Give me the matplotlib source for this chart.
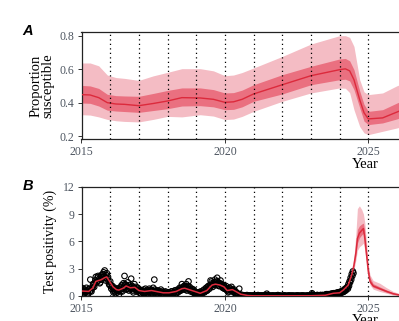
import numpy as np
import matplotlib
matplotlib.use('Agg')
import matplotlib.pyplot as plt

# ---- panel A: proportion susceptible ----
a_t = [2015.0, 2015.3, 2015.6, 2015.9, 2016.2, 2016.5, 2017.0, 2017.5, 2018.0, 2018.5, 2019.14,
       2019.6, 2020.0, 2020.3, 2020.6, 2021.0, 2022.0, 2023.0, 2024.0, 2024.2, 2024.35, 2024.5,
       2024.7, 2024.85, 2025.0, 2025.5, 2026.0, 2026.3]
a_med = [0.448, 0.446, 0.43, 0.40, 0.392, 0.39, 0.382, 0.395, 0.41, 0.43, 0.428,
         0.42, 0.402, 0.405, 0.42, 0.452, 0.507, 0.561, 0.597, 0.602, 0.59, 0.537,
         0.418, 0.34, 0.303, 0.309, 0.344, 0.365]
a_lo95 = [0.328, 0.326, 0.315, 0.30, 0.292, 0.288, 0.285, 0.30, 0.318, 0.315, 0.328,
          0.32, 0.299, 0.302, 0.318, 0.348, 0.408, 0.458, 0.488, 0.486, 0.46, 0.358,
          0.258, 0.22, 0.209, 0.229, 0.249, 0.262]
a_hi95 = [0.637, 0.637, 0.62, 0.565, 0.55, 0.545, 0.533, 0.56, 0.581, 0.603, 0.603,
          0.59, 0.561, 0.565, 0.58, 0.607, 0.676, 0.75, 0.80, 0.80, 0.79, 0.736,
          0.537, 0.465, 0.448, 0.458, 0.501, 0.52]
a_lo50 = [0.398, 0.396, 0.38, 0.355, 0.35, 0.347, 0.342, 0.353, 0.364, 0.38, 0.382,
          0.375, 0.358, 0.36, 0.375, 0.408, 0.452, 0.507, 0.537, 0.54, 0.53, 0.478,
          0.37, 0.29, 0.269, 0.279, 0.303, 0.32]
a_hi50 = [0.503, 0.50, 0.485, 0.45, 0.442, 0.44, 0.438, 0.455, 0.473, 0.488, 0.488,
          0.478, 0.458, 0.46, 0.475, 0.507, 0.567, 0.617, 0.661, 0.664, 0.65, 0.597,
          0.47, 0.39, 0.348, 0.358, 0.398, 0.42]

# ---- panel B: test positivity ----
b_t = [2015.0, 2015.25, 2015.4, 2015.5, 2015.6, 2015.7, 2015.8, 2015.88, 2016.0, 2016.1,
       2016.22, 2016.3, 2016.45, 2016.56, 2016.7, 2016.86, 2017.0, 2017.2, 2017.44, 2017.6,
       2017.85, 2018.05, 2018.3, 2018.5, 2018.6, 2018.75, 2018.95, 2019.14, 2019.37, 2019.55,
       2019.67, 2019.83, 2019.97, 2020.08, 2020.26, 2020.38, 2020.55, 2020.8, 2021.0, 2022.0,
       2023.0, 2023.5, 2023.78, 2024.0, 2024.13, 2024.3, 2024.42, 2024.5, 2024.57, 2024.62,
       2024.69, 2024.77, 2024.83, 2024.88, 2024.94, 2025.0, 2025.06, 2025.17, 2025.4, 2025.64,
       2025.87, 2026.1, 2026.3]
b_med = [0.55, 0.5, 0.9, 1.6, 1.7, 1.8, 2.0, 2.1, 1.5, 1.0,
         0.7, 0.65, 0.85, 1.1, 0.9, 0.95, 0.6, 0.5, 0.6, 0.5,
         0.35, 0.35, 0.5, 0.8, 0.85, 0.7, 0.5, 0.3, 0.6, 1.2,
         1.3, 1.2, 1.0, 0.6, 0.7, 0.5, 0.2, 0.05, 0.02, 0.02,
         0.03, 0.08, 0.3, 0.35, 0.66, 1.2, 2.3, 3.4, 4.8, 6.3,
         6.9, 7.2, 7.4, 6.3, 4.5, 2.7, 1.6, 1.1, 0.8, 0.5,
         0.25, 0.1, 0.05]

b_band_t = [2024.3, 2024.42, 2024.5, 2024.57, 2024.62, 2024.69, 2024.77, 2024.83, 2024.88,
            2024.94, 2025.0, 2025.06, 2025.17, 2025.4, 2025.64, 2025.87, 2026.1, 2026.3]
b_lo95 = [1.0, 2.0, 2.9, 4.0, 5.0, 5.4, 5.6, 5.8, 5.0, 3.6, 2.1, 1.2, 0.75, 0.5, 0.3, 0.1, 0.03, 0.01]
b_hi95 = [1.4, 2.7, 4.2, 7.0, 9.6, 9.9, 9.5, 9.0, 8.0, 5.8, 3.4, 2.3, 1.7, 1.4, 0.9, 0.5, 0.25, 0.15]
b_lo50 = [1.1, 2.2, 3.2, 4.5, 5.8, 6.4, 6.7, 6.9, 5.8, 4.1, 2.4, 1.4, 0.95, 0.7, 0.4, 0.18, 0.07, 0.03]
b_hi50 = [1.3, 2.45, 3.7, 5.5, 7.3, 7.7, 7.9, 8.0, 7.0, 5.0, 3.1, 2.0, 1.35, 1.0, 0.65, 0.35, 0.15, 0.08]

# observed data, two interleaved series (every two weeks each) from 2015
obs1 = [
    # 2015
    0.9, 0.5, 0.3, 0.7, 0.4, 0.6, 0.2, 0.8, 1.8, 0.5, 0.9, 1.2, 1.4, 2.1, 1.6, 2.2, 1.9, 1.5, 2.3, 2.0, 2.6, 2.8, 1.7, 2.5, 2.1, 1.3,
    # 2016
    1.6, 0.8, 1.1, 0.4, 0.9, 0.3, 0.6, 0.8, 0.2, 0.7, 1.0, 0.5, 1.4, 2.2, 1.2, 0.8, 1.5, 0.6, 0.9, 1.9, 1.1, 0.4, 1.3, 0.7, 0.5, 0.9,
    # 2017
    0.4, 0.7, 0.2, 0.6, 0.3, 0.5, 0.8, 0.4, 0.2, 0.6, 0.5, 0.7, 0.3, 0.9, 1.8, 0.4, 0.6, 0.2, 0.5, 0.3, 0.7, 0.2, 0.4, 0.1, 0.5, 0.3,
    # 2018
    0.2, 0.4, 0.1, 0.3, 0.5, 0.2, 0.4, 0.6, 0.3, 0.7, 0.5, 0.9, 0.6, 1.3, 0.8, 1.1, 0.7, 1.3, 0.9, 1.6, 1.0, 0.5, 0.8, 0.4, 0.6, 0.3,
    # 2019
    0.2, 0.4, 0.1, 0.3, 0.5, 0.2, 0.4, 0.7, 0.5, 0.9, 0.6, 1.1, 0.8, 1.7, 1.6, 1.0, 1.4, 1.8, 1.2, 2.0, 1.5, 1.1, 1.7, 1.3, 0.9, 1.2,
    # 2020
    0.8, 1.1, 0.6, 0.4, 0.9, 0.6, 1.0, 0.7, 0.4, 0.5, 0.2, 0.3, 0.1, 0.8, 0.1, 0.0, 0.1, 0.0, 0.05, 0.0, 0.1, 0.0, 0.0, 0.05, 0.0, 0.0,
    # 2021
    0.0, 0.05, 0.0, 0.0, 0.1, 0.0, 0.0, 0.05, 0.0, 0.0, 0.1, 0.0, 0.25, 0.0, 0.05, 0.0, 0.0, 0.0, 0.05, 0.0, 0.0, 0.0, 0.1, 0.0, 0.0, 0.0,
    # 2022
    0.0, 0.0, 0.05, 0.0, 0.0, 0.0, 0.0, 0.05, 0.0, 0.0, 0.0, 0.0, 0.0, 0.05, 0.0, 0.0, 0.0, 0.0, 0.0, 0.05, 0.0, 0.0, 0.0, 0.0, 0.05, 0.0,
    # 2023
    0.0, 0.3, 0.1, 0.0, 0.05, 0.0, 0.1, 0.0, 0.05, 0.1, 0.0, 0.1, 0.05, 0.1, 0.2, 0.1, 0.15, 0.2, 0.1, 0.25, 0.2, 0.3, 0.2, 0.35, 0.3, 0.4,
    # 2024
    0.3, 0.5, 0.4, 0.6, 0.5, 0.8, 0.7, 1.0, 1.3, 1.6, 2.0, 2.4, 2.7,
]
obs2 = [
    # 2015
    0.6, 0.8, 0.4, 0.5, 0.9, 0.3, 0.7, 0.5, 0.6, 0.9, 1.3, 1.0, 1.7, 1.5, 2.0, 1.7, 1.4, 2.1, 1.8, 2.4, 2.2, 2.0, 2.3, 1.9, 1.6, 1.2,
    # 2016
    1.2, 1.0, 0.6, 0.8, 0.5, 0.7, 0.4, 0.6, 0.9, 0.5, 1.2, 0.8, 1.0, 1.3, 0.7, 1.1, 0.8, 1.2, 0.7, 1.0, 0.6, 0.9, 0.8, 1.0, 0.7, 0.6,
    # 2017
    0.6, 0.3, 0.5, 0.4, 0.7, 0.3, 0.5, 0.6, 0.4, 0.8, 0.3, 0.5, 0.6, 0.4, 0.7, 0.5, 0.3, 0.6, 0.2, 0.4, 0.5, 0.3, 0.2, 0.4, 0.3, 0.2,
    # 2018
    0.4, 0.2, 0.3, 0.5, 0.3, 0.4, 0.6, 0.3, 0.5, 0.4, 0.7, 0.6, 0.9, 0.7, 1.0, 0.8, 1.0, 0.6, 1.1, 0.7, 0.8, 0.6, 0.5, 0.7, 0.3, 0.4,
    # 2019
    0.3, 0.2, 0.4, 0.2, 0.3, 0.4, 0.6, 0.4, 0.7, 0.6, 1.0, 0.9, 1.2, 1.1, 1.4, 1.3, 1.2, 1.5, 1.6, 1.3, 1.1, 1.4, 1.2, 1.0, 1.1, 0.8,
    # 2020
    0.9, 0.7, 0.8, 0.5, 0.7, 0.8, 0.6, 0.5, 0.7, 0.3, 0.4, 0.2, 0.1, 0.2, 0.05, 0.1, 0.0, 0.05, 0.0, 0.0, 0.05, 0.0, 0.05, 0.0, 0.0, 0.05,
    # 2021
    0.05, 0.0, 0.0, 0.05, 0.0, 0.0, 0.05, 0.0, 0.0, 0.05, 0.0, 0.0, 0.1, 0.05, 0.0, 0.0, 0.05, 0.0, 0.0, 0.0, 0.05, 0.0, 0.0, 0.05, 0.0, 0.0,
    # 2022
    0.0, 0.05, 0.0, 0.0, 0.0, 0.05, 0.0, 0.0, 0.0, 0.05, 0.0, 0.0, 0.0, 0.0, 0.05, 0.0, 0.0, 0.05, 0.0, 0.0, 0.0, 0.0, 0.05, 0.0, 0.0, 0.0,
    # 2023
    0.05, 0.15, 0.0, 0.05, 0.0, 0.1, 0.05, 0.0, 0.1, 0.05, 0.1, 0.0, 0.1, 0.15, 0.1, 0.2, 0.1, 0.15, 0.25, 0.15, 0.3, 0.2, 0.25, 0.3, 0.4, 0.3,
    # 2024
    0.4, 0.35, 0.5, 0.45, 0.7, 0.6, 0.9, 0.8, 1.1, 1.5, 1.8, 2.2, 2.5,
]
obs1_t = 2015 + np.arange(len(obs1)) / 26
obs2_t = 2015 + (np.arange(len(obs2)) + 0.5) / 26

years = list(range(2016, 2026))
x_ticks = [2015, 2020, 2025]

col95 = '#f4bcc4'
col50 = '#ea7080'
col_line = '#dc2a3c'
tick_col = '#4d5560'

plt.rcParams['font.family'] = ['Liberation Serif', 'DejaVu Serif']

fig = plt.figure(figsize=(3.99, 3.21), dpi=100)
W, H = 399, 321
x0 = 81.5
px_year = 28.68
xmax = 2026.3
aw = (xmax - 2015) * px_year

axA = fig.add_axes([x0 / W, 1 - 139 / H, aw / W, (139 - 32) / H])
axB = fig.add_axes([x0 / W, 1 - 296 / H, aw / W, (296 - 186.7) / H])

# panel A
axA.fill_between(a_t, a_lo95, a_hi95, color=col95, lw=0, zorder=1)
axA.fill_between(a_t, a_lo50, a_hi50, color=col50, lw=0, zorder=2)
axA.plot(a_t, a_med, color=col_line, lw=1.0, zorder=3)
axA.set_ylim(0.183, 0.822)
axA.set_yticks([0.2, 0.4, 0.6, 0.8])
axA.set_yticklabels(['0.2', '0.4', '0.6', '0.8'])

# panel B
axB.fill_between(b_band_t, b_lo95, b_hi95, color=col95, lw=0, zorder=1)
axB.fill_between(b_band_t, b_lo50, b_hi50, color=col50, lw=0, zorder=2)
axB.scatter(obs1_t, obs1, s=16, facecolors='none', edgecolors='black', linewidths=0.8, zorder=4)
axB.scatter(obs2_t, obs2, s=16, facecolors='none', edgecolors='black', linewidths=0.8, zorder=4)
axB.plot(b_t, b_med, color=col_line, lw=1.1, zorder=5)
axB.set_ylim(0, 12)
axB.set_yticks([0, 3, 6, 9, 12])

for ax in (axA, axB):
    for y in years:
        ax.axvline(y, color='black', lw=0.9, ls=(0, (1, 2.6)), zorder=3.5)
    ax.set_xlim(2015, xmax)
    ax.set_xticks(x_ticks)
    ax.tick_params(axis='both', length=3, width=0.7, color='#333333',
                   labelsize=8.5, labelcolor=tick_col, pad=2)
    for s in ('top', 'left', 'bottom', 'right'):
        ax.spines[s].set_linewidth(0.9)
        ax.spines[s].set_color('#222222')

fig.text(42 / W, 1 - 86 / H, 'Proportion\nsusceptible', rotation=90, ha='center', va='center',
         fontsize=10.5, linespacing=0.95)
fig.text(50 / W, 1 - 241 / H, 'Test positivity (%)', rotation=90, ha='center', va='center',
         fontsize=10)
fig.text(365 / W, 1 - 165 / H, 'Year', ha='center', va='center', fontsize=10.5)
fig.text(365 / W, 1 - 321 / H, 'Year', ha='center', va='center', fontsize=10.5)

fig.text(28 / W, 1 - 31 / H, 'A', ha='center', va='center', fontsize=10.5,
         family='Liberation Sans', fontweight='bold', fontstyle='italic')
fig.text(28 / W, 1 - 186 / H, 'B', ha='center', va='center', fontsize=10.5,
         family='Liberation Sans', fontweight='bold', fontstyle='italic')

fig.savefig('out.png', dpi=100)
